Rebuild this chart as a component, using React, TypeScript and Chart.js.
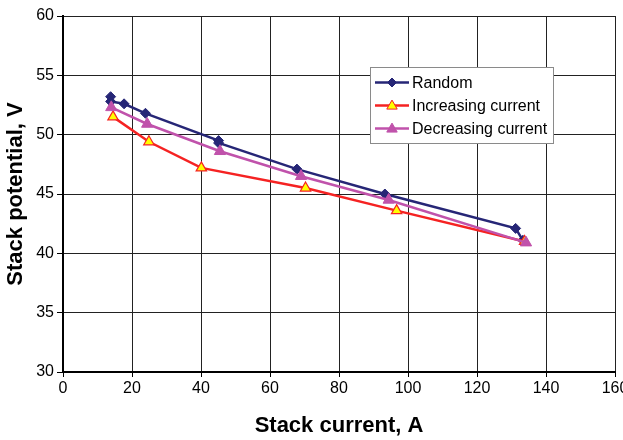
import React, { useEffect, useRef } from 'react';
import { Chart, registerables } from 'chart.js';

Chart.register(...registerables);

// Data
const randomX = [13.8, 13.8, 17.7, 23.9, 45.1, 45.1, 67.8, 93.3, 131.2, 133.3];
const randomY = [53.2, 52.8, 52.6, 51.8, 49.5, 49.3, 47.1, 45.0, 42.1, 41.1];
const increasingX = [14.5, 24.9, 40.1, 70.3, 96.7, 133.8];
const increasingY = [51.5, 49.4, 47.2, 45.5, 43.6, 41.0];
const decreasingX = [14.0, 24.4, 45.5, 69.0, 94.4, 134.2];
const decreasingY = [52.3, 50.9, 48.6, 46.5, 44.5, 40.9];

const seriesNames = ['Random', 'Increasing current', 'Decreasing current'];
const xTitle = 'Stack current, A';
const yTitle = 'Stack potential, V';

const NAVY = '#262676';
const RED = '#f52222';
const YELLOW = '#ffff00';
const PURPLE = '#c052ab';
const FONT = '"Liberation Sans", Arial, sans-serif';

const toPoints = (xs: number[], ys: number[]) => xs.map((x, i) => ({ x, y: ys[i] }));

function drawMarker(ctx: CanvasRenderingContext2D, kind: string, x: number, y: number, r: number, fill: string, stroke: string) {
  ctx.save();
  ctx.beginPath();
  if (kind === 'diamond') {
    ctx.moveTo(x, y - r);
    ctx.lineTo(x + r, y);
    ctx.lineTo(x, y + r);
    ctx.lineTo(x - r, y);
  } else {
    const h = r * 1.5;
    ctx.moveTo(x, y - h * 0.6);
    ctx.lineTo(x + r * 0.87, y + h * 0.4);
    ctx.lineTo(x - r * 0.87, y + h * 0.4);
  }
  ctx.closePath();
  ctx.fillStyle = fill;
  ctx.fill();
  ctx.lineWidth = 1;
  ctx.strokeStyle = stroke;
  ctx.stroke();
  ctx.restore();
}

const legendPlugin = {
  id: 'insideLegend',
  afterDraw(chart: any) {
    const ctx = chart.ctx as CanvasRenderingContext2D;
    const bx = 370.5, by = 67.5, bw = 183, bh = 76;
    ctx.save();
    ctx.fillStyle = '#ffffff';
    ctx.fillRect(bx, by, bw, bh);
    ctx.strokeStyle = '#8a8a8a';
    ctx.lineWidth = 1;
    ctx.strokeRect(bx, by, bw, bh);
    const rows = [
      { c: NAVY, kind: 'diamond', fill: NAVY, stroke: NAVY },
      { c: RED, kind: 'triangle', fill: YELLOW, stroke: RED },
      { c: PURPLE, kind: 'triangle', fill: PURPLE, stroke: PURPLE },
    ];
    rows.forEach((r, i) => {
      const y = 82.5 + i * 23;
      ctx.strokeStyle = r.c;
      ctx.lineWidth = 2.5;
      ctx.beginPath();
      ctx.moveTo(375, y);
      ctx.lineTo(409, y);
      ctx.stroke();
      drawMarker(ctx, r.kind, 392, y, r.kind === 'diamond' ? 4.5 : 6, r.fill, r.stroke);
      ctx.fillStyle = '#000';
      ctx.font = `16px ${FONT}`;
      ctx.textBaseline = 'middle';
      ctx.textAlign = 'left';
      ctx.fillText(seriesNames[i], 412, y + 1);
    });
    ctx.restore();
  },
};

export default function App() {
  const ref = useRef<HTMLCanvasElement>(null);
  useEffect(() => {
    Chart.defaults.font.family = FONT;
    Chart.defaults.color = '#000';
    const chart = new Chart(ref.current as HTMLCanvasElement, {
      type: 'scatter',
      data: {
        datasets: [
          {
            label: seriesNames[0],
            data: toPoints(randomX, randomY),
            showLine: true,
            borderColor: NAVY,
            backgroundColor: NAVY,
            borderWidth: 2.5,
            pointStyle: 'rectRot',
            pointRadius: 5,
            pointBorderWidth: 1,
            pointBorderColor: NAVY,
            pointBackgroundColor: NAVY,
            order: 3,
          },
          {
            label: seriesNames[1],
            data: toPoints(increasingX, increasingY),
            showLine: true,
            borderColor: RED,
            backgroundColor: YELLOW,
            borderWidth: 2.5,
            pointStyle: 'triangle',
            pointRadius: 6,
            pointBorderWidth: 1.2,
            pointBorderColor: RED,
            pointBackgroundColor: YELLOW,
            order: 2,
          },
          {
            label: seriesNames[2],
            data: toPoints(decreasingX, decreasingY),
            showLine: true,
            borderColor: PURPLE,
            backgroundColor: PURPLE,
            borderWidth: 2.5,
            pointStyle: 'triangle',
            pointRadius: 6.5,
            pointBorderWidth: 1,
            pointBorderColor: PURPLE,
            pointBackgroundColor: PURPLE,
            order: 1,
          },
        ],
      },
      options: {
        responsive: false,
        animation: false,
        layout: { padding: { top: 16, right: 8, left: 0, bottom: 0 } },
        plugins: { legend: { display: false }, tooltip: { enabled: false } },
        scales: {
          x: {
            type: 'linear',
            min: 0,
            max: 160,
            ticks: { stepSize: 20, font: { size: 16 }, color: '#000', padding: 2 },
            grid: { color: '#222', lineWidth: 1, tickLength: 5, tickColor: '#000' },
            border: { color: '#000', width: 2 },
            title: { display: true, text: xTitle, font: { size: 22, weight: 'bold' }, color: '#000', padding: { top: 0, bottom: 1 } },
            afterFit: (s: any) => { s.height = 68; s.paddingRight = 0; s.paddingLeft = 0; },
          },
          y: {
            type: 'linear',
            min: 30,
            max: 60,
            ticks: { stepSize: 5, font: { size: 16 }, color: '#000', padding: 3 },
            grid: { color: '#222', lineWidth: 1, tickLength: 6, tickColor: '#000' },
            border: { color: '#000', width: 2 },
            title: { display: true, text: yTitle, font: { size: 22, weight: 'bold' }, color: '#000', padding: { top: 3, bottom: 0 } },
            afterFit: (s: any) => { s.width = 63; s.paddingTop = 0; s.paddingBottom = 0; },
          },
        },
      },
      plugins: [legendPlugin],
    } as any);
    return () => chart.destroy();
  }, []);
  return (
    <div style={{ position: 'absolute', left: 0, top: 0, width: 623, height: 440, background: '#fff' }}>
      <canvas ref={ref} width={623} height={440} style={{ display: 'block' }} />
    </div>
  );
}
